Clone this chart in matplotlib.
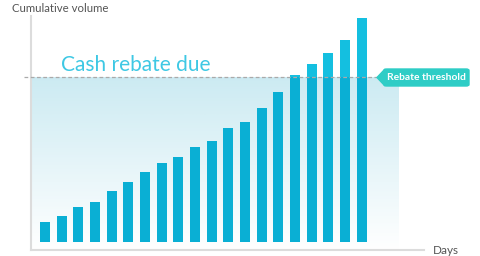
import matplotlib
matplotlib.use("Agg")
import matplotlib.pyplot as plt
import numpy as np
from matplotlib.patches import Polygon, FancyBboxPatch, Rectangle

# cumulative volume per day (arbitrary units)
days = np.arange(20)
volume = [20, 26, 35, 40, 51, 60, 70, 79, 85, 95,
          101, 114, 120, 134, 150, 167, 178, 189, 202, 224]
threshold = 165

bar_color = '#14bfe0'
bar_dark = '#0aafd4'
text_gray = '#555555'
axis_gray = '#dcdcdc'
plt.rcParams['font.family'] = ['Lato', 'DejaVu Sans']

W, H = 480, 256
fig = plt.figure(figsize=(W / 100, H / 100), dpi=100)
def fx(p): return p / W
def fy(p): return 1 - p / H

ax = fig.add_axes([fx(31), fy(250), fx(424) - fx(31), fy(16) - fy(250)])
ax.set_xlim(-0.84, 22.75)
ax.set_ylim(-8, 226)

# gradient zone under the threshold
top = np.array([0.80, 0.92, 0.95])
grad = np.linspace(0, 1, 256)[:, None, None]
img = top * (1 - grad) + np.ones(3) * grad
img = np.concatenate([img, np.ones((256, 1, 1))], axis=2)
ax.imshow(img, extent=[-0.84, 21.19, -8, threshold], aspect='auto',
          origin='upper', zorder=0, interpolation='bicubic')

bars = ax.bar(days, volume, width=0.6, color=bar_color, zorder=2)
under = ax.bar(days, volume, width=0.6, color=bar_dark, zorder=3)
clip = Rectangle((-0.84, -8), 22.03, threshold + 8, transform=ax.transData)
for b in under:
    b.set_clip_path(clip)

ax.plot([-1.26, 20.1], [threshold, threshold], ls=(0, (3, 2)), color='#aaaaaa',
        lw=0.9, clip_on=False, zorder=4)

for s in ['top', 'right']:
    ax.spines[s].set_visible(False)
for s in ['left', 'bottom']:
    ax.spines[s].set_color(axis_gray)
    ax.spines[s].set_linewidth(1.5)
ax.set_xticks([])
ax.set_yticks([])

fig.text(fx(12), fy(8), 'Cumulative volume', fontsize=8.2, color=text_gray,
         va='center', ha='left')
fig.text(fx(433), fy(251), 'Days', fontsize=8.5, color=text_gray,
         va='center', ha='left')
fig.text(fx(61), fy(65), 'Cash rebate due', fontsize=15, color='#3ec8e4',
         va='center', ha='left')

# threshold tag
tag = '#2ecdc6'
fig.patches.append(FancyBboxPatch((fx(384), fy(86)), fx(469) - fx(384), fy(69) - fy(86),
                                  boxstyle='round,pad=0,rounding_size=0.006',
                                  transform=fig.transFigure, color=tag))
fig.patches.append(Polygon([(fx(377), fy(77.5)), (fx(385), fy(69)), (fx(385), fy(86))],
                           closed=True, transform=fig.transFigure, color=tag))
fig.text(fx(426.5), fy(77.5), 'Rebate threshold', fontsize=7.4, color='white',
         fontweight='bold', va='center', ha='center')

fig.savefig('out.png', dpi=100)
